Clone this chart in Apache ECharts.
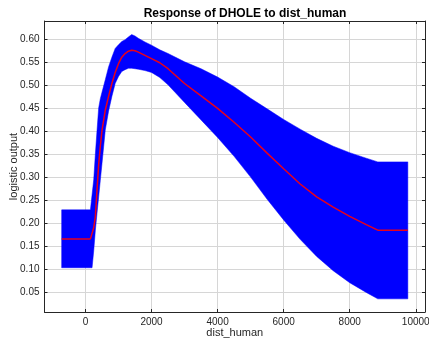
<!DOCTYPE html>
<html>
<head>
<meta charset="utf-8">
<script src="https://cdn.jsdelivr.net/npm/echarts@6/dist/echarts.min.js"></script>
<style>
  html, body { margin: 0; padding: 0; background: #fff; }
  #main { width: 429px; height: 350px; }
</style>
</head>
<body>
<div id="main"></div>
<script>
// dist_human values along the curve
var xValues = [-720, 150, 200, 250, 300, 350, 400, 450, 500, 600, 700, 800, 900, 1000, 1100, 1200, 1300, 1400, 1500, 1600,
  1800, 2000, 2250, 2500, 3000, 3500, 4000, 4500, 5000, 5500, 6000, 6500, 7000, 7500, 8000, 8500, 8850, 9760];
// mean response (red line)
var meanValues = [0.166, 0.166, 0.170, 0.190, 0.214, 0.272, 0.327, 0.367, 0.401, 0.445, 0.475, 0.503, 0.527, 0.546, 0.560, 0.568, 0.573, 0.575, 0.574, 0.571,
  0.564, 0.557, 0.548, 0.535, 0.503, 0.476, 0.449, 0.419, 0.387, 0.352, 0.318, 0.285, 0.257, 0.235, 0.215, 0.197, 0.185, 0.185];
// band edges (blue)
var upperValues = [0.229, 0.229, 0.262, 0.294, 0.350, 0.401, 0.450, 0.470, 0.484, 0.511, 0.539, 0.560, 0.579, 0.587, 0.594, 0.598, 0.604, 0.609, 0.606, 0.601,
  0.593, 0.586, 0.576, 0.568, 0.550, 0.535, 0.517, 0.496, 0.471, 0.448, 0.425, 0.404, 0.384, 0.367, 0.353, 0.341, 0.333, 0.333];
var lowerValues = [0.1035, 0.1035, 0.1035, 0.140, 0.185, 0.222, 0.257, 0.293, 0.329, 0.402, 0.443, 0.475, 0.503, 0.518, 0.529, 0.533, 0.536, 0.536, 0.535, 0.534,
  0.531, 0.527, 0.516, 0.500, 0.462, 0.424, 0.386, 0.345, 0.300, 0.252, 0.207, 0.165, 0.128, 0.097, 0.071, 0.050, 0.036, 0.036];
// tick labels
var xTicks = [0, 2000, 4000, 6000, 8000, 10000];
var yTicks = [0.05, 0.10, 0.15, 0.20, 0.25, 0.30, 0.35, 0.40, 0.45, 0.50, 0.55, 0.60];

var narrow = '"Liberation Sans Narrow", "Liberation Sans", Arial, sans-serif';
var axisColor = '#262626';

var meanData = [];
for (var i = 0; i < xValues.length; i++) {
  meanData.push([xValues[i], meanValues[i]]);
}

function boxAxis(pos, min, max, ticks, main) {
  return {
    type: 'value',
    position: pos,
    min: min,
    max: max,
    axisLine: { show: true, onZero: false, lineStyle: { color: axisColor, width: 1 } },
    axisTick: { show: true, inside: true, length: 3, customValues: ticks, lineStyle: { color: axisColor } },
    axisLabel: {
      show: main,
      customValues: ticks,
      color: axisColor,
      fontFamily: narrow,
      fontSize: 10,
      margin: 5,
      formatter: function (v) { return pos === 'left' ? v.toFixed(2) : String(v); }
    },
    splitLine: { show: main, lineStyle: { color: '#d6d6d6', width: 1 } }
  };
}

// band polygon: upper edge forward, lower edge back
function renderBand(params, api) {
  var pts = [];
  for (var i = 0; i < xValues.length; i++) {
    pts.push(api.coord([xValues[i], upperValues[i]]));
  }
  for (var j = xValues.length - 1; j >= 0; j--) {
    pts.push(api.coord([xValues[j], lowerValues[j]]));
  }
  return {
    type: 'polygon',
    shape: { points: pts, smooth: 0 },
    style: { fill: '#0000ff', stroke: '#0000ff', lineWidth: 0.5 }
  };
}

var chart = echarts.init(document.getElementById('main'));

var xMain = boxAxis('bottom', -1240, 10280, xTicks, true);
xMain.name = 'dist_human';
xMain.nameLocation = 'middle';
xMain.nameGap = 15;
xMain.nameMoveOverlap = false;
xMain.nameTextStyle = { color: axisColor, fontFamily: narrow, fontSize: 11 };

var yMain = boxAxis('left', 0.0075, 0.6385, yTicks, true);
yMain.name = 'logistic output';
yMain.nameLocation = 'middle';
yMain.nameGap = 25;
yMain.nameMoveOverlap = false;
yMain.nameTextStyle = { color: axisColor, fontFamily: '"Liberation Sans", Arial, sans-serif', fontSize: 11 };

var option = {
  animation: false,
  title: {
    text: 'Response of DHOLE to dist_human',
    left: 240,
    top: 3,
    textAlign: 'center',
    textStyle: { fontFamily: narrow, fontSize: 12, fontWeight: 'bold', color: '#000' }
  },
  grid: { left: 44.5, right: 4, top: 21, bottom: 38, containLabel: false, outerBoundsMode: 'none' },
  xAxis: [xMain, boxAxis('top', -1240, 10280, xTicks, false)],
  yAxis: [yMain, boxAxis('right', 0.0075, 0.6385, yTicks, false)],
  series: [
    {
      type: 'custom',
      data: [[xValues[0], lowerValues[0]]],
      renderItem: renderBand,
      silent: true,
      z: 2
    },
    {
      type: 'line',
      data: meanData,
      symbol: 'none',
      z: 5,
      lineStyle: { color: '#e8001a', width: 1.5 }
    }
  ]
};

chart.setOption(option);
</script>
</body>
</html>
